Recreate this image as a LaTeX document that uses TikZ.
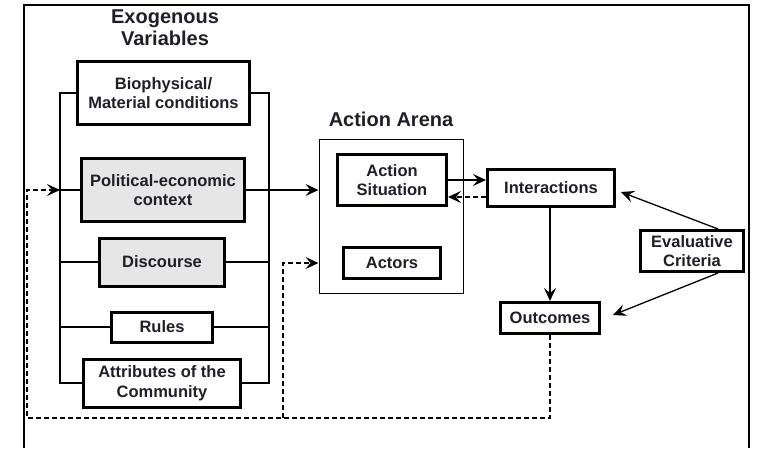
\documentclass[tikz,border=0pt]{standalone}
\usepackage{fontspec}
\setmainfont{Liberation Sans}
\usetikzlibrary{arrows.meta,calc}
\definecolor{ink}{RGB}{34,30,40}
\definecolor{boxgray}{RGB}{230,230,230}
\begin{document}
\begin{tikzpicture}[x=1pt,y=-1pt,
  every node/.style={font=\bfseries\fontsize{16.5}{19.5}\selectfont, text=ink, align=center, inner sep=0pt},
  varbox/.style={draw=black, line width=3pt, fill=white, rectangle},
  shaded/.style={varbox, fill=boxgray},
  heading/.style={font=\bfseries\fontsize{20}{22}\selectfont},
  link/.style={line width=1.3pt},
  tip/.style={-{Stealth[length=13pt,width=12pt,inset=5pt]}},
  feedback/.style={link, dash pattern=on 5pt off 3pt},
]
\useasboundingbox (0,0) rectangle (757,448);
\fill[white] (0,0) rectangle (757,448);

% open outer frame
\draw[line width=1.5pt] (24,448) -- (24,5) -- (749,5) -- (749,448);

% exogenous variables
\node[heading] (exo) at (165,28) {Exogenous\\Variables};
\node[varbox, minimum width=172, minimum height=63] (bio) at (163.5,93) {Biophysical/\\Material conditions};
\node[shaded, minimum width=163, minimum height=63] (pol) at (163,190) {Political-economic\\context};
\node[shaded, minimum width=125, minimum height=48] (dis) at (162,262) {Discourse};
\node[varbox, minimum width=101, minimum height=30] (rul) at (162,327) {Rules};
\node[varbox, minimum width=157, minimum height=48] (att) at (162,383) {Attributes of the\\Community};

% bracket joining the variables
\coordinate (brL) at (60,0);
\coordinate (brR) at (269,0);
\draw[link] (bio.west) -- (bio.west -| brL) -- (att.west -| brL) -- (att.west);
\draw[link] (bio.east) -- (bio.east -| brR) -- (att.east -| brR) -- (att.east);
\foreach \n in {pol,dis,rul}
  \draw[link] (\n.west) -- (\n.west -| brL) (\n.east) -- (\n.east -| brR);

% action arena
\node[heading] (arenatitle) at (391,119) {Action Arena};
\node[draw, line width=1pt, minimum width=144, minimum height=154] (arena) at (391,216) {};
\node[varbox, minimum width=109, minimum height=51] (sit) at (392,180) {Action\\Situation};
\node[varbox, minimum width=97, minimum height=31] (act) at (392,263) {Actors};

% interactions, outcomes, criteria
\node[varbox, minimum width=127, minimum height=37] (int) at (551,188) {Interactions};
\node[varbox, minimum width=99, minimum height=31] (out) at (550,318) {Outcomes};
\node[varbox, minimum width=103, minimum height=41] (eva) at (692,251) {Evaluative\\Criteria};

% connectors
\draw[link,tip] (pol.east) -- (pol.east -| arena.west);
\draw[link,tip] (sit.east) -- (sit.east -| int.west);
\draw[feedback,tip] ($(int.west)+(0,9)$) -- ($(sit.east)+(0,17)$);
\draw[link,tip] (out.north |- int.south) -- (out.north);
\draw[link,tip] ($(eva.north)+(26,0)$) -- ($(int.east)+(5,4)$);
\draw[link,tip] ($(eva.south)+(26,0)$) -- ($(out.east)+(12,-3)$);

% feedback loop from outcomes
\coordinate (fbL) at (27,418);
\coordinate (fbB) at (283,418);
\draw[feedback,tip] (out.south) -- (out.south |- fbL) -- (fbL) -- (fbL |- pol.west) -- (pol.west -| brL);
\draw[feedback,tip] (fbB) -- (fbB |- act) -- (act -| arena.west);
\end{tikzpicture}
\end{document}
